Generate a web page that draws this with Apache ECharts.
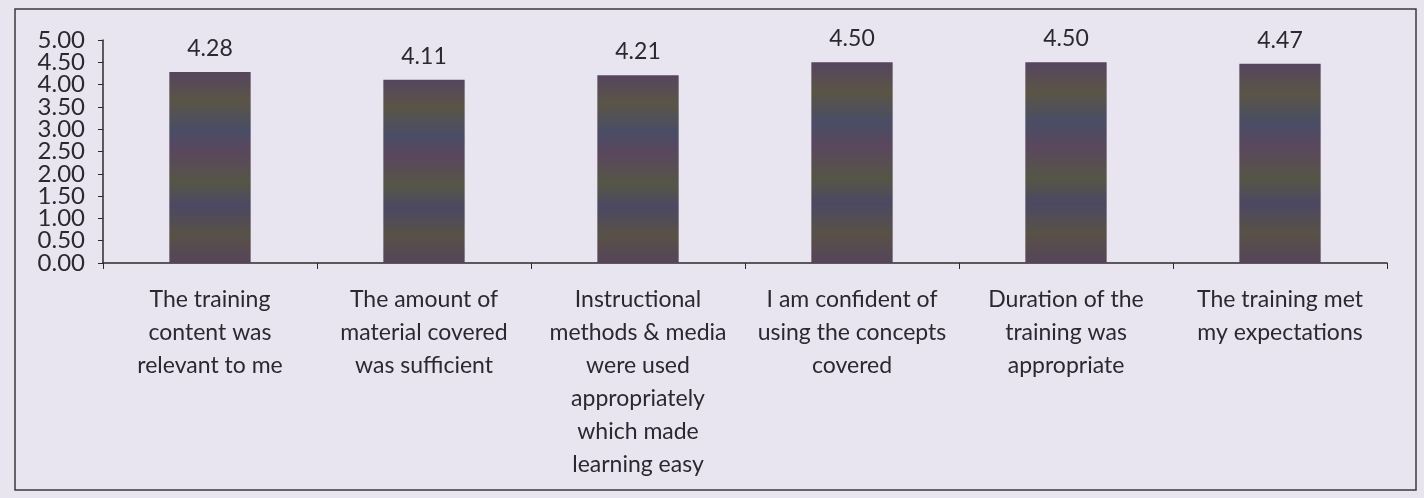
<!DOCTYPE html>
<html>
<head>
<meta charset="utf-8">
<script src="https://cdn.jsdelivr.net/npm/echarts@6/dist/echarts.min.js"></script>
<style>
  html, body { margin: 0; padding: 0; background: #e9e5f0; }
  #chart { width: 1424px; height: 498px; }
</style>
</head>
<body>
<div id="chart"></div>
<script>
// survey items (x axis) and the mean score for each
const categories = [
  'The training\ncontent was\nrelevant to me',
  'The amount of\nmaterial covered\nwas sufficient',
  'Instructional\nmethods & media\nwere used\nappropriately\nwhich made\nlearning easy',
  'I am confident of\nusing the concepts\ncovered',
  'Duration of the\ntraining was\nappropriate',
  'The training met\nmy expectations'
]
const scores = [4.28, 4.11, 4.21, 4.50, 4.50, 4.47]
const yTickLabels = ['0.00', '0.50', '1.00', '1.50', '2.00', '2.50', '3.00', '3.50', '4.00', '4.50', '5.00']
const yMin = 0, yMax = 5, yStep = 0.5

const textColor = '#2b2830'
const font = 'Lato'

// scanned bars look mottled, fake it with some horizontal bands
const barFill = new echarts.graphic.LinearGradient(0, 0, 0, 1, [
  { offset: 0, color: '#56455f' },
  { offset: 0.15, color: '#5a5546' },
  { offset: 0.3, color: '#4a4d66' },
  { offset: 0.42, color: '#5a475d' },
  { offset: 0.58, color: '#555646' },
  { offset: 0.7, color: '#4c4863' },
  { offset: 0.85, color: '#585146' },
  { offset: 1, color: '#56445b' }
])

const chart = echarts.init(document.getElementById('chart'))
chart.setOption({
  backgroundColor: '#e9e5f0',
  animation: false,
  textStyle: { fontFamily: font, color: textColor },
  graphic: [{
    type: 'rect',
    shape: { x: 15, y: 9, width: 1401, height: 481 },
    style: { fill: 'none', stroke: '#3a3a3a', lineWidth: 1.5 },
    silent: true
  }],
  grid: { left: 103, right: 37, top: 40, bottom: 235 },
  xAxis: {
    type: 'category',
    data: categories,
    axisLine: { lineStyle: { color: '#2a2a2a', width: 1.5 } },
    axisTick: { show: true, length: 6, lineStyle: { color: '#2a2a2a' } },
    axisLabel: {
      interval: 0,
      margin: 20,
      fontFamily: font,
      fontSize: 23,
      lineHeight: 33,
      color: textColor,
      align: 'center'
    }
  },
  yAxis: [{
    // value scale for the bars: line + ticks
    type: 'value',
    min: yMin,
    max: yMax,
    interval: yStep,
    splitLine: { show: false },
    axisLine: { show: true, lineStyle: { color: '#2a2a2a', width: 1.5 } },
    axisTick: { show: true, length: 5, lineStyle: { color: '#2a2a2a' } },
    axisLabel: { show: false }
  }, {
    // the tick labels are packed tighter than their font, value axis would drop some,
    // so print them from an overlaid category axis on the same positions
    type: 'category',
    position: 'left',
    data: yTickLabels,
    boundaryGap: false,
    axisLine: { show: false },
    axisTick: { show: false },
    splitLine: { show: false },
    axisLabel: {
      interval: 0,
      margin: 18,
      fontFamily: font,
      fontSize: 24,
      color: textColor
    }
  }],
  series: [{
    type: 'bar',
    yAxisIndex: 0,
    data: scores,
    barCategoryGap: '62%',
    itemStyle: { color: barFill },
    label: {
      show: true,
      position: 'top',
      distance: 12,
      fontFamily: font,
      fontSize: 23,
      color: textColor,
      formatter: p => p.value.toFixed(2)
    }
  }]
})
</script>
</body>
</html>
